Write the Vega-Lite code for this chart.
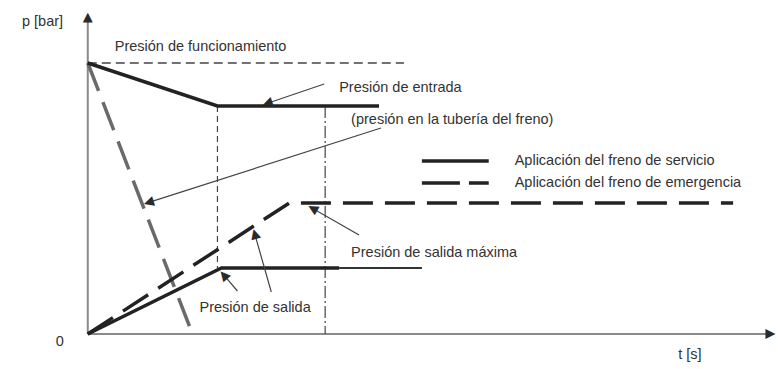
{
  "$schema": "https://vega.github.io/schema/vega-lite/v6.json",
  "width": 778,
  "height": 369,
  "autosize": {"type": "fit", "contains": "padding"},
  "padding": 0,
  "background": "white",
  "config": {"view": {"stroke": null}},
  "datasets": {
    "curves": [
      {"line": "funcionamiento", "i": 0, "t": 0, "p": 271},
      {"line": "funcionamiento", "i": 1, "t": 317, "p": 271},
      {"line": "entrada_servicio", "i": 0, "t": 0, "p": 271},
      {"line": "entrada_servicio", "i": 1, "t": 130, "p": 228},
      {"line": "entrada_servicio", "i": 2, "t": 292, "p": 228},
      {"line": "salida_servicio", "i": 0, "t": 0, "p": 0},
      {"line": "salida_servicio", "i": 1, "t": 134, "p": 66},
      {"line": "salida_servicio", "i": 2, "t": 252, "p": 66},
      {"line": "salida_servicio_ext", "i": 0, "t": 252, "p": 66},
      {"line": "salida_servicio_ext", "i": 1, "t": 335, "p": 66},
      {"line": "entrada_emergencia", "i": 0, "t": 0, "p": 271},
      {"line": "entrada_emergencia", "i": 1, "t": 105, "p": 0},
      {"line": "salida_emergencia", "i": 0, "t": 0, "p": 0},
      {"line": "salida_emergencia", "i": 1, "t": 202, "p": 131},
      {"line": "salida_emergencia", "i": 2, "t": 647, "p": 131},
      {"line": "guia_1", "i": 0, "t": 130, "p": 228},
      {"line": "guia_1", "i": 1, "t": 130, "p": 66},
      {"line": "guia_2", "i": 0, "t": 238, "p": 228},
      {"line": "guia_2", "i": 1, "t": 238, "p": 0},
      {"line": "leyenda_servicio", "i": 0, "t": 335, "p": 173},
      {"line": "leyenda_servicio", "i": 1, "t": 402, "p": 173},
      {"line": "leyenda_emergencia", "i": 0, "t": 335, "p": 151},
      {"line": "leyenda_emergencia", "i": 1, "t": 402, "p": 151},
      {"line": "eje_p", "i": 0, "t": 0, "p": 0},
      {"line": "eje_p", "i": 1, "t": 0, "p": 315},
      {"line": "eje_t", "i": 0, "t": 0, "p": 0},
      {"line": "eje_t", "i": 1, "t": 685, "p": 0}
    ],
    "arrows": [
      {"arrow": "entrada", "t0": 237, "p0": 250, "t1": 179.5, "p1": 230.5},
      {"arrow": "tuberia", "t0": 294, "p0": 206, "t1": 60.5, "p1": 131.4},
      {"arrow": "maxima", "t0": 272, "p0": 99, "t1": 225.1, "p1": 125.7},
      {"arrow": "salida_s", "t0": 150, "p0": 43, "t1": 136.1, "p1": 59.4},
      {"arrow": "salida_e", "t0": 184, "p0": 42, "t1": 167.3, "p1": 100.4}
    ],
    "heads": [
      {"arrow": "entrada", "t": 179.5, "p": 230.5},
      {"arrow": "tuberia", "t": 60.5, "p": 131.4},
      {"arrow": "maxima", "t": 225.1, "p": 125.7},
      {"arrow": "salida_s", "t": 136.1, "p": 59.4},
      {"arrow": "salida_e", "t": 167.3, "p": 100.4},
      {"arrow": "eje_p", "t": 0, "p": 317.3},
      {"arrow": "eje_t", "t": 685.3, "p": 0}
    ],
    "labels": [
      {"label": "p [bar]", "t": -66, "p": 312},
      {"label": "Presión de funcionamiento", "t": 27, "p": 287},
      {"label": "Presión de entrada", "t": 252, "p": 246},
      {"label": "(presión en la tubería del freno)", "t": 264, "p": 214},
      {"label": "Aplicación del freno de servicio", "t": 428, "p": 173},
      {"label": "Aplicación del freno de emergencia", "t": 428, "p": 151},
      {"label": "Presión de salida máxima", "t": 264, "p": 81},
      {"label": "Presión de salida", "t": 112, "p": 26},
      {"label": "0", "t": -32, "p": -8},
      {"label": "t [s]", "t": 592, "p": -21}
    ]
  },
  "encoding": {
    "x": {"field": "t", "type": "quantitative", "scale": {"domain": [-88, 690], "nice": false, "zero": false}, "axis": null},
    "y": {"field": "p", "type": "quantitative", "scale": {"domain": [-35, 334], "nice": false, "zero": false}, "axis": null}
  },
  "layer": [
    {
      "data": {"name": "curves"},
      "transform": [{"filter": "datum.line == 'eje_p' || datum.line == 'eje_t'"}],
      "mark": {"type": "line", "color": "#8a8a8a", "strokeWidth": 2},
      "encoding": {"detail": {"field": "line"}, "order": {"field": "i"}}
    },
    {
      "data": {"name": "curves"},
      "transform": [{"filter": "datum.line == 'funcionamiento'"}],
      "mark": {"type": "line", "color": "#444444", "strokeWidth": 1.5, "strokeDash": [9, 5]},
      "encoding": {"detail": {"field": "line"}, "order": {"field": "i"}}
    },
    {
      "data": {"name": "curves"},
      "transform": [{"filter": "datum.line == 'guia_1'"}],
      "mark": {"type": "line", "color": "#444444", "strokeWidth": 1.2, "strokeDash": [6, 4]},
      "encoding": {"detail": {"field": "line"}, "order": {"field": "i"}}
    },
    {
      "data": {"name": "curves"},
      "transform": [{"filter": "datum.line == 'guia_2'"}],
      "mark": {"type": "line", "color": "#444444", "strokeWidth": 1.2, "strokeDash": [12, 3, 2, 3]},
      "encoding": {"detail": {"field": "line"}, "order": {"field": "i"}}
    },
    {
      "data": {"name": "curves"},
      "transform": [{"filter": "datum.line == 'entrada_emergencia'"}],
      "mark": {"type": "line", "color": "#6a6a6a", "strokeWidth": 3.5, "strokeDash": [30, 12]},
      "encoding": {"detail": {"field": "line"}, "order": {"field": "i"}}
    },
    {
      "data": {"name": "curves"},
      "transform": [{"filter": "datum.line == 'salida_emergencia'"}],
      "mark": {"type": "line", "color": "#222222", "strokeWidth": 3.5, "strokeDash": [30, 12]},
      "encoding": {"detail": {"field": "line"}, "order": {"field": "i"}}
    },
    {
      "data": {"name": "curves"},
      "transform": [{"filter": "datum.line == 'leyenda_emergencia'"}],
      "mark": {"type": "line", "color": "#222222", "strokeWidth": 3.5, "strokeDash": [38, 9]},
      "encoding": {"detail": {"field": "line"}, "order": {"field": "i"}}
    },
    {
      "data": {"name": "curves"},
      "transform": [{"filter": "datum.line == 'salida_servicio_ext'"}],
      "mark": {"type": "line", "color": "#333333", "strokeWidth": 2},
      "encoding": {"detail": {"field": "line"}, "order": {"field": "i"}}
    },
    {
      "data": {"name": "curves"},
      "transform": [{"filter": "datum.line == 'entrada_servicio' || datum.line == 'salida_servicio' || datum.line == 'leyenda_servicio'"}],
      "mark": {"type": "line", "color": "#222222", "strokeWidth": 3.5, "strokeJoin": "miter"},
      "encoding": {"detail": {"field": "line"}, "order": {"field": "i"}}
    },
    {
      "data": {"name": "arrows"},
      "mark": {"type": "rule", "color": "#444444", "strokeWidth": 1.2},
      "encoding": {
        "x": {"field": "t0", "type": "quantitative"},
        "y": {"field": "p0", "type": "quantitative"},
        "x2": {"field": "t1"},
        "y2": {"field": "p1"}
      }
    },
    {
      "data": {"name": "heads"},
      "transform": [{"filter": "datum.arrow == 'entrada'"}],
      "mark": {"type": "text", "text": "▲", "font": "DejaVu Sans", "fontSize": 13, "align": "center", "baseline": "middle", "color": "#2a2a2a", "angle": -108.7}
    },
    {
      "data": {"name": "heads"},
      "transform": [{"filter": "datum.arrow == 'tuberia'"}],
      "mark": {"type": "text", "text": "▲", "font": "DejaVu Sans", "fontSize": 13, "align": "center", "baseline": "middle", "color": "#2a2a2a", "angle": -107.7}
    },
    {
      "data": {"name": "heads"},
      "transform": [{"filter": "datum.arrow == 'maxima'"}],
      "mark": {"type": "text", "text": "▲", "font": "DejaVu Sans", "fontSize": 13, "align": "center", "baseline": "middle", "color": "#2a2a2a", "angle": -60.4}
    },
    {
      "data": {"name": "heads"},
      "transform": [{"filter": "datum.arrow == 'salida_s'"}],
      "mark": {"type": "text", "text": "▲", "font": "DejaVu Sans", "fontSize": 13, "align": "center", "baseline": "middle", "color": "#2a2a2a", "angle": -40.4}
    },
    {
      "data": {"name": "heads"},
      "transform": [{"filter": "datum.arrow == 'salida_e'"}],
      "mark": {"type": "text", "text": "▲", "font": "DejaVu Sans", "fontSize": 13, "align": "center", "baseline": "middle", "color": "#2a2a2a", "angle": -15.9}
    },
    {
      "data": {"name": "heads"},
      "transform": [{"filter": "datum.arrow == 'eje_p'"}],
      "mark": {"type": "text", "text": "▲", "font": "DejaVu Sans", "fontSize": 13, "align": "center", "baseline": "middle", "color": "#2a2a2a", "angle": 0}
    },
    {
      "data": {"name": "heads"},
      "transform": [{"filter": "datum.arrow == 'eje_t'"}],
      "mark": {"type": "text", "text": "▲", "font": "DejaVu Sans", "fontSize": 13, "align": "center", "baseline": "middle", "color": "#2a2a2a", "angle": 90}
    },
    {
      "data": {"name": "labels"},
      "mark": {"type": "text", "align": "left", "baseline": "middle", "font": "Liberation Sans", "fontSize": 14.5, "color": "#333333"},
      "encoding": {"text": {"field": "label"}}
    }
  ]
}
